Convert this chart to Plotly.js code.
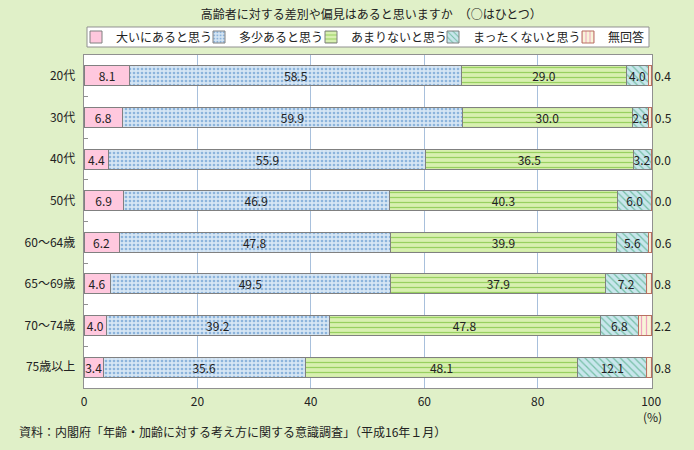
<!DOCTYPE html>
<html>
<head>
<meta charset="utf-8">
<script src="https://cdn.plot.ly/plotly-3.0.1.min.js"></script>
<style>html,body{margin:0;padding:0;background:#e0f0c8;}</style>
</head>
<body>
<div id="chart" style="width:694px;height:450px;"></div>
<script>
const categories = ["20代","30代","40代","50代","60～64歳","65～69歳","70～74歳","75歳以上"];
const seriesNames = ["大いにあると思う","多少あると思う","あまりないと思う","まったくないと思う","無回答"];
const oomoi   = [8.1, 6.8, 4.4, 6.9, 6.2, 4.6, 4.0, 3.4];
const tashou  = [58.5, 59.9, 55.9, 46.9, 47.8, 49.5, 39.2, 35.6];
const amari   = [29.0, 30.0, 36.5, 40.3, 39.9, 37.9, 47.8, 48.1];
const mattaku = [4.0, 2.9, 3.2, 6.0, 5.6, 7.2, 6.8, 12.1];
const muktou  = [0.4, 0.5, 0.0, 0.0, 0.6, 0.8, 2.2, 0.8];
const xTicks = [0, 20, 40, 60, 80, 100];

const FONT = '"Noto Sans CJK JP", "Noto Sans", sans-serif';
const styles = [
  {bg:'#ffc8de', fg:'#ffc8de', shape:''},
  {bg:'#d6e6f4', fg:'#8cb4dc', shape:'.'},
  {bg:'#d8f0b0', fg:'#98d060', shape:'-'},
  {bg:'#c8e6ec', fg:'#78c0a8', shape:'\\'},
  {bg:'#f8f4d8', fg:'#f0a0c0', shape:'|'}
];
const legendIds = ['legend', 'legend2', 'legend3', 'legend4', 'legend5'];
const legendLeft = [76, 199, 311, 433, 568];

const values = [oomoi, tashou, amari, mattaku, muktou];
const traces = values.map((v, i) => {
  const s = styles[i];
  const last = i === values.length - 1;
  const marker = {color: s.bg, line: {color: last ? '#b87060' : '#808080', width: 1}};
  if (s.shape) marker.pattern = {shape: s.shape, bgcolor: s.bg, fgcolor: s.fg, size: s.shape === '.' ? 4 : 5, solidity: s.shape === '.' ? 0.35 : 0.25, fillmode: 'replace'};
  return {
    type: 'bar', orientation: 'h', name: seriesNames[i], legend: legendIds[i],
    y: categories, x: v,
    text: v.map(n => n.toFixed(1)),
    textposition: last ? 'outside' : 'inside',
    insidetextanchor: 'middle', textangle: 0,
    constraintext: 'none',
    textfont: {family: FONT, size: 12, color: '#222'},
    cliponaxis: false,
    marker: marker,
    hoverinfo: 'skip'
  };
});

const layout = {
  width: 694, height: 450,
  paper_bgcolor: '#e0f0c8', plot_bgcolor: '#ffffff',
  margin: {l: 84, r: 42, t: 55, b: 62},
  barmode: 'stack', bargap: 0.52,
  font: {family: FONT, size: 12, color: '#222'},
  showlegend: true,
  title: {text: '高齢者に対する差別や偏見はあると思いますか　（○はひとつ）', x: 0.535, xanchor: 'center', y: 0.968, yanchor: 'middle',
    font: {family: FONT, size: 12, color: '#222'}},
  xaxis: {range: [0, 100.15], tickvals: xTicks, ticktext: xTicks.map(String),
    showgrid: true, gridcolor: '#a8c0dc', gridwidth: 1, zeroline: false,
    showline: true, linecolor: '#909090', mirror: true, ticks: '', ticklabelstandoff: 3,
    tickfont: {family: FONT, size: 12, color: '#222'}, fixedrange: true},
  yaxis: {type: 'category', autorange: 'reversed', categoryorder: 'array', categoryarray: categories,
    showline: true, linecolor: '#909090', mirror: true,
    ticks: 'inside', tickson: 'boundaries', ticklen: 4, tickcolor: '#909090',
    showgrid: false, ticksuffix: '  ',
    tickfont: {family: FONT, size: 12, color: '#222'}, fixedrange: true},
  shapes: [
    {type: 'rect', xref: 'paper', yref: 'paper', x0: 0.0053, x1: 0.9947, y0: 1.024, y1: 1.0841,
      fillcolor: '#ffffff', line: {color: '#909090', width: 1}, layer: 'above'}
  ],
  annotations: [
    {text: '(%)', xref: 'paper', yref: 'paper', x: 1, y: -0.087, xanchor: 'center', yanchor: 'middle', showarrow: false,
      font: {family: FONT, size: 12, color: '#222'}},
    {text: '資料：内閣府「年齢・加齢に対する考え方に関する意識調査」（平成16年１月）', xref: 'paper', yref: 'paper',
      x: -0.118, xanchor: 'left', y: -0.132, yanchor: 'middle', showarrow: false,
      font: {family: FONT, size: 12, color: '#222'}}
  ]
};
legendIds.forEach((id, i) => {
  layout[id] = {
    orientation: 'h', xref: 'container', yref: 'container',
    x: legendLeft[i] / 694, xanchor: 'left', y: (450 - 37) / 450, yanchor: 'middle',
    bgcolor: 'rgba(0,0,0,0)', borderwidth: 0, itemwidth: 30,
    font: {family: FONT, size: 12, color: '#222'}
  };
});
Plotly.newPlot('chart', traces, layout, {displayModeBar: false, staticPlot: true});
</script>
</body>
</html>
